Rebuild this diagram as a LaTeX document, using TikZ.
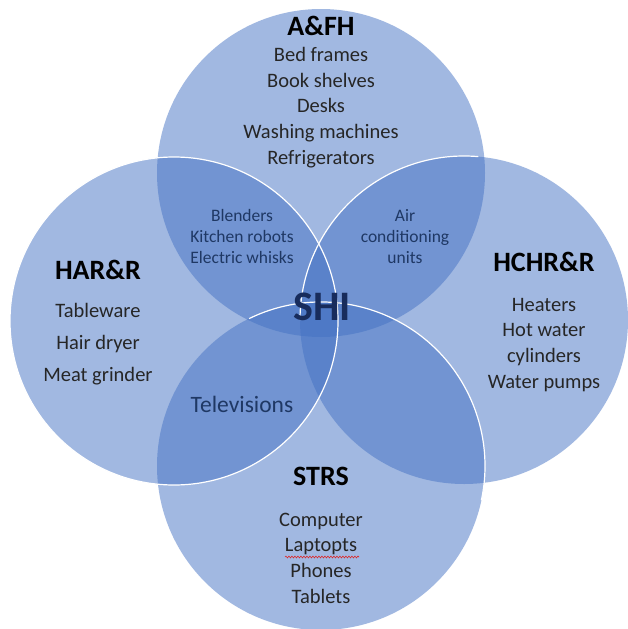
\documentclass[tikz,border=0pt]{standalone}
\usepackage{fontspec}
\setmainfont{Carlito}
\usetikzlibrary{decorations.pathmorphing}
\definecolor{cblue}{RGB}{68,114,196}
\definecolor{navy}{RGB}{31,56,100}
\definecolor{deepnavy}{RGB}{24,44,92}
\definecolor{itemgray}{RGB}{38,38,38}
\definecolor{squig}{RGB}{220,40,40}
\begin{document}
\begin{tikzpicture}[x=1pt,y=-1pt,
  circ/.style={circle, inner sep=0pt, minimum size=328pt, fill=cblue, fill opacity=0.5, draw=none},
  rim/.style={draw=white, line width=1.2pt},
  title/.style={font=\fontsize{28}{32}\selectfont\bfseries, text=black, anchor=base, inner sep=0pt},
  items/.style={font=\fontsize{20.5}{25.6}\selectfont, text=itemgray, align=center, anchor=base, inner sep=0pt},
  overlap/.style={font=\fontsize{17.5}{21}\selectfont, text=navy, align=center, anchor=base, inner sep=0pt}]
\useasboundingbox (0,0) rectangle (628,629);
\fill[white] (0,0) rectangle (628,629);
% circles
\node[circ] (ctop) at (321,173) {};
\node[circ] (cleft) at (174,321) {};
\node[circ] (cright) at (464,320) {};
\node[circ] (cbot) at (321,466) {};
\draw[rim] (cleft.center) circle[radius=164pt];
\draw[rim] (cright.center) ++(180:164) arc[start angle=180, end angle=275, radius=164];
\draw[rim] (cbot.center) ++(244:164) arc[start angle=244, end angle=372, radius=164];
% top
\node[title] (tA) at (321,35) {A\&FH};
\node[items] (iA) at (321,164) {Bed frames\\Book shelves\\Desks\\Washing machines\\Refrigerators};
% left
\node[title] (tL) at (98,279) {HAR\&R};
\node[items, font=\fontsize{20.5}{32}\selectfont] (iL) at (98,381) {Tableware\\Hair dryer\\Meat grinder};
% right
\node[title] (tR) at (544,271) {HCHR\&R};
\node[items] (iR) at (544,388) {Heaters\\Hot water\\cylinders\\Water pumps};
% bottom
\node[title] (tB) at (321,485) {STRS};
\node[items] (iB) at (321,603) {Computer\\Laptopts\\Phones\\Tablets};
\coordinate (sqA) at (285,557);
\coordinate (sqB) at (359,557);
\draw[squig, line width=0.6pt, decorate, decoration={snake, amplitude=0.9pt, segment length=3pt}] (sqA) -- (sqB);
% overlaps
\node[overlap] (oTL) at (242,263) {Blenders\\Kitchen robots\\Electric whisks};
\node[overlap] (oTR) at (405,263) {Air\\conditioning\\units};
\node[overlap, font=\fontsize{23.5}{25}\selectfont] (oBL) at (242,412) {Televisions};
\node[font=\fontsize{42}{48}\selectfont\bfseries, text=deepnavy, anchor=base, inner sep=0pt] (shi) at (322,320) {SHI};
\end{tikzpicture}
\end{document}
